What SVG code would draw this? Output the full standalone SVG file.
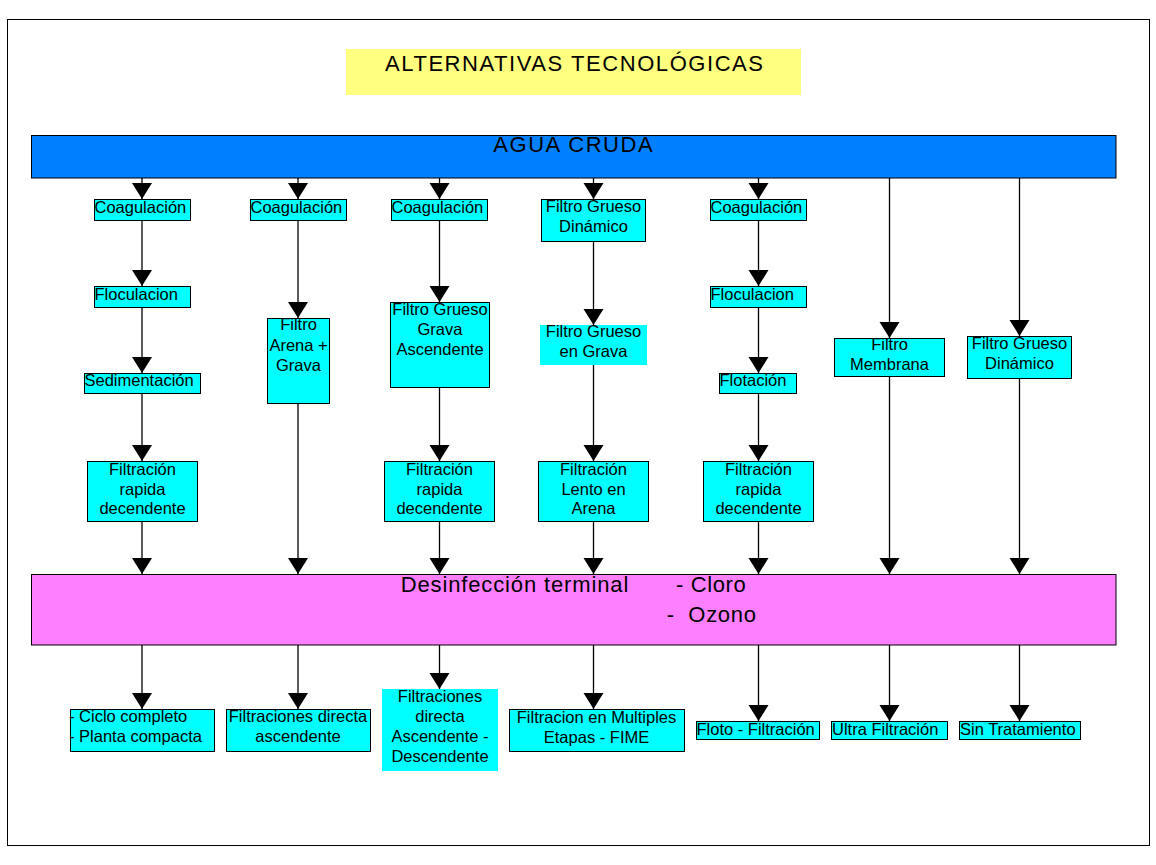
<svg xmlns="http://www.w3.org/2000/svg" width="1156" height="865" viewBox="0 0 1156 865">
<style>
text{font-family:"Liberation Sans",Arial,sans-serif;fill:#000}
.s{font-size:16.5px}
.c{text-anchor:middle}
.big{font-size:22px}
.box{fill:#00FFFF;stroke:#000;stroke-width:1}
.nb{fill:#00FFFF;stroke:none}
.ln{stroke:#000;stroke-width:1.3;fill:none;marker-end:url(#ah)}
</style>
<defs>
<marker id="ah" markerUnits="userSpaceOnUse" markerWidth="17" markerHeight="21" refX="16" refY="10" orient="auto" viewBox="0 0 17 21">
<path d="M0,0 L16,10 L0,20 Z" fill="#000"/>
</marker>
</defs>
<rect width="1156" height="865" fill="#fff"/>
<rect x="7.5" y="19.5" width="1142" height="826" fill="none" stroke="#000" stroke-width="1"/>

<g id="title">
<rect x="346" y="49" width="455" height="46" fill="#FFFF80"/>
<text class="big" x="385" y="71" textLength="378" lengthAdjust="spacing">ALTERNATIVAS TECNOLÓGICAS</text>
</g>

<g id="agua-cruda">
<rect x="31.5" y="135.5" width="1084.5" height="42.5" fill="#0080FF" stroke="#000" stroke-width="1"/>
<text class="big" x="493.3" y="152" textLength="159.3" lengthAdjust="spacing">AGUA CRUDA</text>
</g>

<g id="desinfeccion">
<rect x="31.5" y="574.5" width="1084.5" height="70.5" fill="#FF80FF" stroke="#000" stroke-width="1"/>
<text class="big" x="400.7" y="591.5" textLength="227.6" lengthAdjust="spacing">Desinfección terminal</text>
<text class="big" x="676" y="591.5" textLength="69.7" lengthAdjust="spacing">- Cloro</text>
<text class="big" x="666.7" y="621.5" textLength="89.3" lengthAdjust="spacing" xml:space="preserve">-  Ozono</text>
</g>

<g id="connectors">
<!-- col1 -->
<line class="ln" x1="142" y1="178" x2="142" y2="199"/>
<line class="ln" x1="142" y1="220" x2="142" y2="286"/>
<line class="ln" x1="142" y1="307" x2="142" y2="373"/>
<line class="ln" x1="142" y1="393" x2="142" y2="461"/>
<line class="ln" x1="142" y1="521" x2="142" y2="574"/>
<line class="ln" x1="142" y1="645" x2="142" y2="709"/>
<!-- col2 -->
<line class="ln" x1="298" y1="178" x2="298" y2="199"/>
<line class="ln" x1="298" y1="220" x2="298" y2="318"/>
<line class="ln" x1="298" y1="403" x2="298" y2="574"/>
<line class="ln" x1="298" y1="645" x2="298" y2="709"/>
<!-- col3 -->
<line class="ln" x1="439.5" y1="178" x2="439.5" y2="199"/>
<line class="ln" x1="439.5" y1="220" x2="439.5" y2="302"/>
<line class="ln" x1="439.5" y1="387" x2="439.5" y2="461"/>
<line class="ln" x1="439.5" y1="521" x2="439.5" y2="574"/>
<line class="ln" x1="439.5" y1="645" x2="439.5" y2="689"/>
<!-- col4 -->
<line class="ln" x1="593.5" y1="178" x2="593.5" y2="199"/>
<line class="ln" x1="593.5" y1="241" x2="593.5" y2="325"/>
<line class="ln" x1="593.5" y1="365" x2="593.5" y2="461"/>
<line class="ln" x1="593.5" y1="521" x2="593.5" y2="574"/>
<line class="ln" x1="593.5" y1="645" x2="593.5" y2="709"/>
<!-- col5 -->
<line class="ln" x1="758.5" y1="178" x2="758.5" y2="199"/>
<line class="ln" x1="758.5" y1="220" x2="758.5" y2="286"/>
<line class="ln" x1="758.5" y1="307" x2="758.5" y2="373"/>
<line class="ln" x1="758.5" y1="393" x2="758.5" y2="461"/>
<line class="ln" x1="758.5" y1="521" x2="758.5" y2="574"/>
<line class="ln" x1="758.5" y1="645" x2="758.5" y2="721"/>
<!-- col6 -->
<line class="ln" x1="889.5" y1="178" x2="889.5" y2="338"/>
<line class="ln" x1="889.5" y1="376" x2="889.5" y2="574"/>
<line class="ln" x1="889.5" y1="645" x2="889.5" y2="721"/>
<!-- col7 -->
<line class="ln" x1="1019.5" y1="178" x2="1019.5" y2="336"/>
<line class="ln" x1="1019.5" y1="378" x2="1019.5" y2="574"/>
<line class="ln" x1="1019.5" y1="645" x2="1019.5" y2="721"/>
</g>

<!-- column 1 -->
<g id="c1-coagulacion"><rect class="box" x="94.5" y="199.5" width="96" height="21"/><text class="s" x="94.5" y="213">Coagulación</text></g>
<g id="c1-floculacion"><rect class="box" x="94.5" y="286.5" width="96" height="21"/><text class="s" x="94.5" y="300">Floculacion</text></g>
<g id="c1-sedimentacion"><rect class="box" x="84.5" y="373.5" width="116" height="20"/><text class="s" x="84.5" y="386">Sedimentación</text></g>
<g id="c1-filtracion"><rect class="box" x="87.5" y="461.5" width="110" height="60"/><text class="s c" x="142.5"><tspan x="142.5" y="474.5">Filtración</tspan><tspan x="142.5" y="494.5">rapida</tspan><tspan x="142.5" y="514">decendente</tspan></text></g>
<g id="c1-resultado"><rect class="box" x="70.5" y="709.5" width="144" height="42"/><text class="s"><tspan x="69" y="722">- Ciclo completo</tspan><tspan x="69" y="742">- Planta compacta</tspan></text></g>

<!-- column 2 -->
<g id="c2-coagulacion"><rect class="box" x="250.5" y="199.5" width="96" height="21"/><text class="s" x="250.5" y="213">Coagulación</text></g>
<g id="c2-filtro-arena"><rect class="box" x="267.5" y="318.5" width="62" height="85"/><text class="s c"><tspan x="298.5" y="330">Filtro</tspan><tspan x="298.5" y="350.5">Arena +</tspan><tspan x="298.5" y="370.5">Grava</tspan></text></g>
<g id="c2-resultado"><rect class="box" x="226.5" y="709.5" width="144" height="42"/><text class="s c"><tspan x="298" y="722">Filtraciones directa</tspan><tspan x="298" y="742">ascendente</tspan></text></g>

<!-- column 3 -->
<g id="c3-coagulacion"><rect class="box" x="391.5" y="199.5" width="96" height="21"/><text class="s" x="391.5" y="213">Coagulación</text></g>
<g id="c3-filtro-grueso"><rect class="box" x="390.5" y="302.5" width="99" height="85"/><text class="s c"><tspan x="440" y="315">Filtro Grueso</tspan><tspan x="440" y="335">Grava</tspan><tspan x="440" y="355">Ascendente</tspan></text></g>
<g id="c3-filtracion"><rect class="box" x="384.5" y="461.5" width="110" height="60"/><text class="s c"><tspan x="439.5" y="474.5">Filtración</tspan><tspan x="439.5" y="494.5">rapida</tspan><tspan x="439.5" y="514">decendente</tspan></text></g>
<g id="c3-resultado"><rect class="nb" x="382" y="689" width="116" height="82"/><text class="s c"><tspan x="440" y="701.5">Filtraciones</tspan><tspan x="440" y="721.5">directa</tspan><tspan x="440" y="741.5">Ascendente -</tspan><tspan x="440" y="761.5">Descendente</tspan></text></g>

<!-- column 4 -->
<g id="c4-fgd"><rect class="box" x="541.5" y="199.5" width="104" height="42"/><text class="s c"><tspan x="593.5" y="211.5">Filtro Grueso</tspan><tspan x="593.5" y="231.5">Dinámico</tspan></text></g>
<g id="c4-fg-grava"><rect class="nb" x="540" y="325" width="107" height="40"/><text class="s c"><tspan x="593.5" y="337">Filtro Grueso</tspan><tspan x="593.5" y="356.5">en Grava</tspan></text></g>
<g id="c4-filtracion"><rect class="box" x="538.5" y="461.5" width="110" height="60"/><text class="s c"><tspan x="593.5" y="474.5">Filtración</tspan><tspan x="593.5" y="494.5">Lento en</tspan><tspan x="593.5" y="514">Arena</tspan></text></g>
<g id="c4-resultado"><rect class="box" x="509.5" y="709.5" width="175" height="42"/><text class="s c"><tspan x="596.5" y="723">Filtracion en Multiples</tspan><tspan x="596.5" y="743">Etapas - FIME</tspan></text></g>

<!-- column 5 -->
<g id="c5-coagulacion"><rect class="box" x="710.5" y="199.5" width="96" height="21"/><text class="s" x="710.5" y="213">Coagulación</text></g>
<g id="c5-floculacion"><rect class="box" x="710.5" y="286.5" width="96" height="21"/><text class="s" x="710.5" y="300">Floculacion</text></g>
<g id="c5-flotacion"><rect class="box" x="719.5" y="373.5" width="77" height="20"/><text class="s" x="719.5" y="386">Flotación</text></g>
<g id="c5-filtracion"><rect class="box" x="703.5" y="461.5" width="110" height="60"/><text class="s c"><tspan x="758.5" y="474.5">Filtración</tspan><tspan x="758.5" y="494.5">rapida</tspan><tspan x="758.5" y="514">decendente</tspan></text></g>
<g id="c5-resultado"><rect class="box" x="696.5" y="721.5" width="123" height="18"/><text class="s" x="696.5" y="735">Floto - Filtración</text></g>

<!-- column 6 -->
<g id="c6-membrana"><rect class="box" x="834.5" y="338.5" width="110" height="38"/><text class="s c"><tspan x="889.5" y="350">Filtro</tspan><tspan x="889.5" y="370">Membrana</tspan></text></g>
<g id="c6-resultado"><rect class="box" x="831.5" y="721.5" width="116" height="18"/><text class="s" x="832" y="735">Ultra Filtración</text></g>

<!-- column 7 -->
<g id="c7-fgd"><rect class="box" x="967.5" y="336.5" width="104" height="42"/><text class="s c"><tspan x="1019.5" y="348.5">Filtro Grueso</tspan><tspan x="1019.5" y="368.5">Dinámico</tspan></text></g>
<g id="c7-resultado"><rect class="box" x="959.5" y="721.5" width="121" height="18"/><text class="s" x="960" y="735">Sin Tratamiento</text></g>
</svg>
